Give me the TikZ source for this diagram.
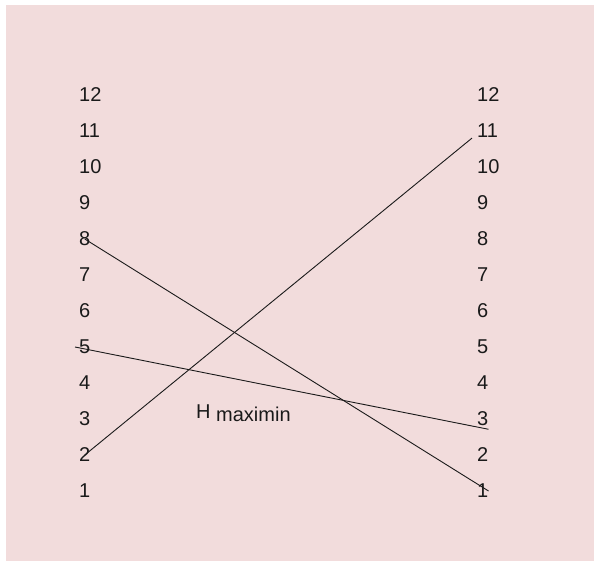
\documentclass[tikz,border=0pt]{standalone}
\usepackage{fontspec}
\setmainfont{Liberation Sans}
\usepackage{tikz}
\usetikzlibrary{positioning}
\definecolor{BlushPink}{HTML}{F2DCDC}
\definecolor{InkBlack}{HTML}{1A1A1A}

\begin{document}
\begin{tikzpicture}[
    x=1pt, y=-1pt,
    rank/.style={inner sep=0pt, anchor=west, text=InkBlack, font=\fontsize{20}{22}\selectfont},
    tie/.style={draw=InkBlack, line width=0.9pt}
  ]
      \useasboundingbox (0,0) rectangle (599,561);
      \fill[BlushPink] (6,5) rectangle (594,561);
      % left column
      \node[rank] (L12) at (79,95) {12};
      \node[rank] (L11) at (79,131) {11};
      \node[rank] (L10) at (79,167) {10};
      \node[rank] (L9) at (79,203) {9};
      \node[rank] (L8) at (79,239) {8};
      \node[rank] (L7) at (79,275) {7};
      \node[rank] (L6) at (79,311) {6};
      \node[rank] (L5) at (79,347) {5};
      \node[rank] (L4) at (79,383) {4};
      \node[rank] (L3) at (79,419) {3};
      \node[rank] (L2) at (79,455) {2};
      \node[rank] (L1) at (79,491) {1};
      % right column
      \node[rank] (R12) at (477,95) {12};
      \node[rank] (R11) at (477,131) {11};
      \node[rank] (R10) at (477,167) {10};
      \node[rank] (R9) at (477,203) {9};
      \node[rank] (R8) at (477,239) {8};
      \node[rank] (R7) at (477,275) {7};
      \node[rank] (R6) at (477,311) {6};
      \node[rank] (R5) at (477,347) {5};
      \node[rank] (R4) at (477,383) {4};
      \node[rank] (R3) at (477,419) {3};
      \node[rank] (R2) at (477,455) {2};
      \node[rank] (R1) at (477,491) {1};
      % pairings
      \draw[tie] (L8.center) -- (R1.east);
      \draw[tie] ([xshift=-4pt]L5.west) -- ([yshift=-3pt]R3.south east);
      \draw[tie] (L2.center) -- ([xshift=-5pt]R11.south west);
      \node[rank] (hmax) at (196,413) {H \raisebox{-3pt}{maximin}};
    \end{tikzpicture}
\end{document}
